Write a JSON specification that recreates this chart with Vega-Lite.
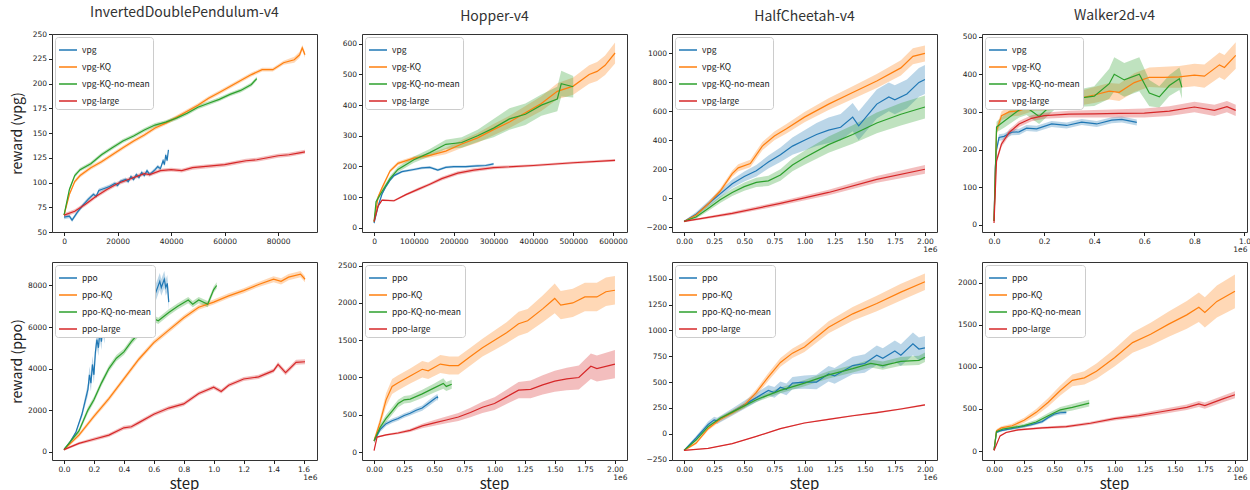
{
"$schema": "https://vega.github.io/schema/vega-lite/v6.json",
"padding": {"left": 9, "top": 5, "right": 0, "bottom": 0},
"config": {
 "view": {"stroke": "#333"},
 "legend": {"orient": "top-left", "offset": 3, "padding": 3, "fillColor": "white", "strokeColor": "#cccccc", "cornerRadius": 3, "labelFont": "Noto Sans CJK JP", "labelFontSize": 8.5, "labelColor": "#222", "symbolType": "stroke", "symbolSize": 324, "symbolStrokeWidth": 1.5, "rowPadding": 2, "labelOffset": 4},
 "axis": {"grid": false, "domain": false, "tickColor": "#222", "tickSize": 3.5, "labelFont": "DejaVu Sans", "labelFontSize": 7.5, "labelColor": "#222", "labelPadding": 2},
 "axisX": {"titleX": 265, "titleY": 17, "titleAlign": "right", "titleBaseline": "middle", "titleFont": "DejaVu Sans", "titleFontSize": 7.5, "titleFontWeight": "normal", "titleColor": "#222"},
 "axisY": {"titleX": -35, "titleBaseline": "middle", "titleFont": "Noto Sans CJK JP", "titleFontSize": 14, "titleFontWeight": "normal", "titleColor": "#222"}
},
"data": {"values": [
{"p":"a1","s":"vpg","x":0,"y":65,"lo":63,"hi":67},{"p":"a1","s":"vpg","x":2000,"y":66,"lo":64,"hi":68},{"p":"a1","s":"vpg","x":3000,"y":62,"lo":60,"hi":64},{"p":"a1","s":"vpg","x":5000,"y":70,"lo":68,"hi":72},{"p":"a1","s":"vpg","x":7000,"y":77,"lo":75,"hi":79},{"p":"a1","s":"vpg","x":9000,"y":83,"lo":81,"hi":85},{"p":"a1","s":"vpg","x":11000,"y":88,"lo":86,"hi":90},{"p":"a1","s":"vpg","x":12000,"y":86,"lo":84,"hi":88},{"p":"a1","s":"vpg","x":13000,"y":92,"lo":90,"hi":94},{"p":"a1","s":"vpg","x":15000,"y":94,"lo":92,"hi":96},{"p":"a1","s":"vpg","x":17000,"y":96,"lo":94,"hi":98},{"p":"a1","s":"vpg","x":19000,"y":99,"lo":97,"hi":101},{"p":"a1","s":"vpg","x":20000,"y":97,"lo":95,"hi":99},{"p":"a1","s":"vpg","x":21000,"y":101,"lo":99,"hi":103},{"p":"a1","s":"vpg","x":23000,"y":103,"lo":101,"hi":105},{"p":"a1","s":"vpg","x":24000,"y":101,"lo":99,"hi":103},{"p":"a1","s":"vpg","x":25000,"y":106,"lo":104,"hi":108},{"p":"a1","s":"vpg","x":26000,"y":103,"lo":101,"hi":105},{"p":"a1","s":"vpg","x":27000,"y":108,"lo":106,"hi":110},{"p":"a1","s":"vpg","x":28000,"y":105,"lo":103,"hi":107},{"p":"a1","s":"vpg","x":29000,"y":110,"lo":108,"hi":112},{"p":"a1","s":"vpg","x":30000,"y":107,"lo":105,"hi":109},{"p":"a1","s":"vpg","x":31000,"y":112,"lo":110,"hi":114},{"p":"a1","s":"vpg","x":32000,"y":108,"lo":106,"hi":110},{"p":"a1","s":"vpg","x":34000,"y":113,"lo":111,"hi":115},{"p":"a1","s":"vpg","x":35000,"y":116,"lo":114,"hi":118},{"p":"a1","s":"vpg","x":36000,"y":114,"lo":112,"hi":116},{"p":"a1","s":"vpg","x":37000,"y":122,"lo":120,"hi":124},{"p":"a1","s":"vpg","x":37500,"y":118,"lo":116,"hi":120},{"p":"a1","s":"vpg","x":38000,"y":128,"lo":126,"hi":130},{"p":"a1","s":"vpg","x":38500,"y":122,"lo":120,"hi":124},{"p":"a1","s":"vpg","x":39000,"y":133,"lo":131,"hi":135},
{"p":"a1","s":"vpg-KQ","x":0,"y":67,"lo":65,"hi":69},{"p":"a1","s":"vpg-KQ","x":2000,"y":88,"lo":86,"hi":90},{"p":"a1","s":"vpg-KQ","x":4000,"y":101,"lo":99,"hi":103},{"p":"a1","s":"vpg-KQ","x":6000,"y":107,"lo":105,"hi":109},{"p":"a1","s":"vpg-KQ","x":10000,"y":115,"lo":113,"hi":117},{"p":"a1","s":"vpg-KQ","x":14000,"y":121,"lo":119,"hi":123},{"p":"a1","s":"vpg-KQ","x":18000,"y":128,"lo":126,"hi":130},{"p":"a1","s":"vpg-KQ","x":22000,"y":135,"lo":133,"hi":137},{"p":"a1","s":"vpg-KQ","x":26000,"y":142,"lo":140,"hi":144},{"p":"a1","s":"vpg-KQ","x":30000,"y":148,"lo":146,"hi":150},{"p":"a1","s":"vpg-KQ","x":34000,"y":155,"lo":153,"hi":157},{"p":"a1","s":"vpg-KQ","x":38000,"y":160,"lo":158,"hi":162},{"p":"a1","s":"vpg-KQ","x":42000,"y":166,"lo":164,"hi":168},{"p":"a1","s":"vpg-KQ","x":46000,"y":172,"lo":170,"hi":174},{"p":"a1","s":"vpg-KQ","x":50000,"y":178,"lo":176,"hi":180},{"p":"a1","s":"vpg-KQ","x":54000,"y":185,"lo":183,"hi":187},{"p":"a1","s":"vpg-KQ","x":58000,"y":191,"lo":189,"hi":193},{"p":"a1","s":"vpg-KQ","x":62000,"y":197,"lo":195,"hi":199},{"p":"a1","s":"vpg-KQ","x":66000,"y":203,"lo":201,"hi":205},{"p":"a1","s":"vpg-KQ","x":70000,"y":209,"lo":207,"hi":211},{"p":"a1","s":"vpg-KQ","x":74000,"y":214,"lo":212,"hi":216},{"p":"a1","s":"vpg-KQ","x":78000,"y":214,"lo":212,"hi":216},{"p":"a1","s":"vpg-KQ","x":82000,"y":221,"lo":219,"hi":223},{"p":"a1","s":"vpg-KQ","x":86000,"y":224,"lo":221,"hi":227},{"p":"a1","s":"vpg-KQ","x":88000,"y":229,"lo":226,"hi":232},{"p":"a1","s":"vpg-KQ","x":89000,"y":236,"lo":233,"hi":239},{"p":"a1","s":"vpg-KQ","x":90000,"y":229,"lo":226,"hi":232},
{"p":"a1","s":"vpg-KQ-no-mean","x":0,"y":67,"lo":65,"hi":69},{"p":"a1","s":"vpg-KQ-no-mean","x":2000,"y":93,"lo":91,"hi":95},{"p":"a1","s":"vpg-KQ-no-mean","x":4000,"y":107,"lo":105,"hi":109},{"p":"a1","s":"vpg-KQ-no-mean","x":6000,"y":113,"lo":111,"hi":115},{"p":"a1","s":"vpg-KQ-no-mean","x":10000,"y":119,"lo":117,"hi":121},{"p":"a1","s":"vpg-KQ-no-mean","x":14000,"y":128,"lo":126,"hi":130},{"p":"a1","s":"vpg-KQ-no-mean","x":18000,"y":135,"lo":133,"hi":137},{"p":"a1","s":"vpg-KQ-no-mean","x":22000,"y":142,"lo":140,"hi":144},{"p":"a1","s":"vpg-KQ-no-mean","x":26000,"y":147,"lo":145,"hi":149},{"p":"a1","s":"vpg-KQ-no-mean","x":30000,"y":153,"lo":151,"hi":155},{"p":"a1","s":"vpg-KQ-no-mean","x":34000,"y":158,"lo":156,"hi":160},{"p":"a1","s":"vpg-KQ-no-mean","x":38000,"y":161,"lo":159,"hi":163},{"p":"a1","s":"vpg-KQ-no-mean","x":42000,"y":165,"lo":163,"hi":167},{"p":"a1","s":"vpg-KQ-no-mean","x":46000,"y":170,"lo":168,"hi":172},{"p":"a1","s":"vpg-KQ-no-mean","x":50000,"y":176,"lo":174,"hi":178},{"p":"a1","s":"vpg-KQ-no-mean","x":54000,"y":180,"lo":178,"hi":182},{"p":"a1","s":"vpg-KQ-no-mean","x":58000,"y":184,"lo":182,"hi":186},{"p":"a1","s":"vpg-KQ-no-mean","x":62000,"y":189,"lo":187,"hi":191},{"p":"a1","s":"vpg-KQ-no-mean","x":66000,"y":193,"lo":191,"hi":195},{"p":"a1","s":"vpg-KQ-no-mean","x":70000,"y":199,"lo":197,"hi":201},{"p":"a1","s":"vpg-KQ-no-mean","x":72000,"y":205,"lo":203,"hi":207},
{"p":"a1","s":"vpg-large","x":0,"y":67,"lo":65,"hi":69},{"p":"a1","s":"vpg-large","x":4000,"y":71,"lo":69,"hi":73},{"p":"a1","s":"vpg-large","x":8000,"y":78,"lo":76,"hi":80},{"p":"a1","s":"vpg-large","x":12000,"y":86,"lo":84,"hi":88},{"p":"a1","s":"vpg-large","x":16000,"y":93,"lo":91,"hi":95},{"p":"a1","s":"vpg-large","x":20000,"y":99,"lo":97,"hi":101},{"p":"a1","s":"vpg-large","x":24000,"y":103,"lo":101,"hi":105},{"p":"a1","s":"vpg-large","x":28000,"y":107,"lo":105,"hi":109},{"p":"a1","s":"vpg-large","x":30000,"y":109,"lo":107,"hi":111},{"p":"a1","s":"vpg-large","x":32000,"y":108,"lo":106,"hi":110},{"p":"a1","s":"vpg-large","x":36000,"y":112,"lo":110,"hi":114},{"p":"a1","s":"vpg-large","x":40000,"y":113,"lo":111,"hi":115},{"p":"a1","s":"vpg-large","x":44000,"y":112,"lo":110,"hi":114},{"p":"a1","s":"vpg-large","x":48000,"y":115,"lo":113,"hi":117},{"p":"a1","s":"vpg-large","x":52000,"y":116,"lo":114,"hi":118},{"p":"a1","s":"vpg-large","x":56000,"y":117,"lo":115,"hi":119},{"p":"a1","s":"vpg-large","x":60000,"y":118,"lo":116,"hi":120},{"p":"a1","s":"vpg-large","x":64000,"y":120,"lo":118,"hi":122},{"p":"a1","s":"vpg-large","x":68000,"y":122,"lo":120,"hi":124},{"p":"a1","s":"vpg-large","x":72000,"y":123,"lo":121,"hi":125},{"p":"a1","s":"vpg-large","x":76000,"y":125,"lo":123,"hi":127},{"p":"a1","s":"vpg-large","x":80000,"y":127,"lo":125,"hi":129},{"p":"a1","s":"vpg-large","x":84000,"y":128,"lo":126,"hi":130},{"p":"a1","s":"vpg-large","x":88000,"y":130,"lo":128,"hi":132},{"p":"a1","s":"vpg-large","x":90000,"y":131,"lo":129,"hi":133},
{"p":"b1","s":"ppo","x":0,"y":100,"lo":50,"hi":150},{"p":"b1","s":"ppo","x":40000,"y":450,"lo":390,"hi":510},{"p":"b1","s":"ppo","x":80000,"y":950,"lo":890,"hi":1010},{"p":"b1","s":"ppo","x":120000,"y":1800,"lo":1650,"hi":1950},{"p":"b1","s":"ppo","x":160000,"y":3000,"lo":2700,"hi":3300},{"p":"b1","s":"ppo","x":170000,"y":3700,"lo":3300,"hi":4100},{"p":"b1","s":"ppo","x":180000,"y":3300,"lo":2900,"hi":3700},{"p":"b1","s":"ppo","x":190000,"y":4200,"lo":3800,"hi":4600},{"p":"b1","s":"ppo","x":200000,"y":3700,"lo":3300,"hi":4100},{"p":"b1","s":"ppo","x":210000,"y":4800,"lo":4400,"hi":5200},{"p":"b1","s":"ppo","x":220000,"y":5400,"lo":5000,"hi":5800},{"p":"b1","s":"ppo","x":230000,"y":5000,"lo":4600,"hi":5400},{"p":"b1","s":"ppo","x":240000,"y":5800,"lo":5400,"hi":6200},{"p":"b1","s":"ppo","x":250000,"y":5300,"lo":4900,"hi":5700},{"p":"b1","s":"ppo","x":260000,"y":6100,"lo":5700,"hi":6500},{"p":"b1","s":"ppo","x":270000,"y":5600,"lo":5200,"hi":6000},{"p":"b1","s":"ppo","x":280000,"y":6400,"lo":6000,"hi":6800},{"p":"b1","s":"ppo","x":300000,"y":6700,"lo":6300,"hi":7100},{"p":"b1","s":"ppo","x":310000,"y":6200,"lo":5800,"hi":6600},{"p":"b1","s":"ppo","x":340000,"y":6900,"lo":6500,"hi":7300},{"p":"b1","s":"ppo","x":350000,"y":6300,"lo":5900,"hi":6700},{"p":"b1","s":"ppo","x":380000,"y":7000,"lo":6600,"hi":7400},{"p":"b1","s":"ppo","x":410000,"y":6300,"lo":5900,"hi":6700},{"p":"b1","s":"ppo","x":440000,"y":7100,"lo":6700,"hi":7500},{"p":"b1","s":"ppo","x":460000,"y":5800,"lo":5400,"hi":6200},{"p":"b1","s":"ppo","x":480000,"y":7300,"lo":6900,"hi":7700},{"p":"b1","s":"ppo","x":500000,"y":7400,"lo":7000,"hi":7800},{"p":"b1","s":"ppo","x":520000,"y":6500,"lo":6100,"hi":6900},{"p":"b1","s":"ppo","x":550000,"y":7500,"lo":7100,"hi":7900},{"p":"b1","s":"ppo","x":560000,"y":7100,"lo":6700,"hi":7500},{"p":"b1","s":"ppo","x":590000,"y":8000,"lo":7600,"hi":8400},{"p":"b1","s":"ppo","x":610000,"y":7600,"lo":7200,"hi":8000},{"p":"b1","s":"ppo","x":640000,"y":8200,"lo":7800,"hi":8600},{"p":"b1","s":"ppo","x":650000,"y":7900,"lo":7500,"hi":8300},{"p":"b1","s":"ppo","x":670000,"y":8300,"lo":7900,"hi":8700},{"p":"b1","s":"ppo","x":680000,"y":7900,"lo":7500,"hi":8300},{"p":"b1","s":"ppo","x":690000,"y":8100,"lo":7700,"hi":8500},{"p":"b1","s":"ppo","x":700000,"y":7200,"lo":6800,"hi":7600},
{"p":"b1","s":"ppo-KQ","x":0,"y":100,"lo":50,"hi":150},{"p":"b1","s":"ppo-KQ","x":100000,"y":800,"lo":700,"hi":900},{"p":"b1","s":"ppo-KQ","x":200000,"y":1700,"lo":1580,"hi":1820},{"p":"b1","s":"ppo-KQ","x":300000,"y":2550,"lo":2430,"hi":2670},{"p":"b1","s":"ppo-KQ","x":400000,"y":3500,"lo":3380,"hi":3620},{"p":"b1","s":"ppo-KQ","x":500000,"y":4450,"lo":4330,"hi":4570},{"p":"b1","s":"ppo-KQ","x":600000,"y":5250,"lo":5130,"hi":5370},{"p":"b1","s":"ppo-KQ","x":700000,"y":5850,"lo":5730,"hi":5970},{"p":"b1","s":"ppo-KQ","x":800000,"y":6450,"lo":6330,"hi":6570},{"p":"b1","s":"ppo-KQ","x":900000,"y":6950,"lo":6830,"hi":7070},{"p":"b1","s":"ppo-KQ","x":1000000,"y":7200,"lo":7080,"hi":7320},{"p":"b1","s":"ppo-KQ","x":1100000,"y":7500,"lo":7380,"hi":7620},{"p":"b1","s":"ppo-KQ","x":1200000,"y":7750,"lo":7630,"hi":7870},{"p":"b1","s":"ppo-KQ","x":1300000,"y":8050,"lo":7930,"hi":8170},{"p":"b1","s":"ppo-KQ","x":1400000,"y":8300,"lo":8150,"hi":8450},{"p":"b1","s":"ppo-KQ","x":1450000,"y":8200,"lo":8050,"hi":8350},{"p":"b1","s":"ppo-KQ","x":1500000,"y":8400,"lo":8250,"hi":8550},{"p":"b1","s":"ppo-KQ","x":1580000,"y":8550,"lo":8400,"hi":8700},{"p":"b1","s":"ppo-KQ","x":1610000,"y":8300,"lo":8150,"hi":8450},
{"p":"b1","s":"ppo-KQ-no-mean","x":0,"y":100,"lo":50,"hi":150},{"p":"b1","s":"ppo-KQ-no-mean","x":100000,"y":1000,"lo":880,"hi":1120},{"p":"b1","s":"ppo-KQ-no-mean","x":160000,"y":2000,"lo":1850,"hi":2150},{"p":"b1","s":"ppo-KQ-no-mean","x":200000,"y":2500,"lo":2350,"hi":2650},{"p":"b1","s":"ppo-KQ-no-mean","x":250000,"y":3300,"lo":3150,"hi":3450},{"p":"b1","s":"ppo-KQ-no-mean","x":300000,"y":4000,"lo":3850,"hi":4150},{"p":"b1","s":"ppo-KQ-no-mean","x":350000,"y":4500,"lo":4350,"hi":4650},{"p":"b1","s":"ppo-KQ-no-mean","x":400000,"y":4800,"lo":4650,"hi":4950},{"p":"b1","s":"ppo-KQ-no-mean","x":450000,"y":5300,"lo":5150,"hi":5450},{"p":"b1","s":"ppo-KQ-no-mean","x":500000,"y":5700,"lo":5550,"hi":5850},{"p":"b1","s":"ppo-KQ-no-mean","x":550000,"y":6600,"lo":6450,"hi":6750},{"p":"b1","s":"ppo-KQ-no-mean","x":600000,"y":6400,"lo":6250,"hi":6550},{"p":"b1","s":"ppo-KQ-no-mean","x":630000,"y":6300,"lo":6150,"hi":6450},{"p":"b1","s":"ppo-KQ-no-mean","x":700000,"y":6700,"lo":6550,"hi":6850},{"p":"b1","s":"ppo-KQ-no-mean","x":760000,"y":7000,"lo":6850,"hi":7150},{"p":"b1","s":"ppo-KQ-no-mean","x":830000,"y":7300,"lo":7150,"hi":7450},{"p":"b1","s":"ppo-KQ-no-mean","x":860000,"y":7100,"lo":6950,"hi":7250},{"p":"b1","s":"ppo-KQ-no-mean","x":900000,"y":7300,"lo":7150,"hi":7450},{"p":"b1","s":"ppo-KQ-no-mean","x":960000,"y":7100,"lo":6950,"hi":7250},{"p":"b1","s":"ppo-KQ-no-mean","x":1000000,"y":7800,"lo":7650,"hi":7950},{"p":"b1","s":"ppo-KQ-no-mean","x":1020000,"y":8000,"lo":7850,"hi":8150},
{"p":"b1","s":"ppo-large","x":0,"y":100,"lo":50,"hi":150},{"p":"b1","s":"ppo-large","x":100000,"y":400,"lo":330,"hi":470},{"p":"b1","s":"ppo-large","x":200000,"y":600,"lo":520,"hi":680},{"p":"b1","s":"ppo-large","x":300000,"y":800,"lo":710,"hi":890},{"p":"b1","s":"ppo-large","x":400000,"y":1150,"lo":1050,"hi":1250},{"p":"b1","s":"ppo-large","x":450000,"y":1200,"lo":1100,"hi":1300},{"p":"b1","s":"ppo-large","x":500000,"y":1400,"lo":1300,"hi":1500},{"p":"b1","s":"ppo-large","x":600000,"y":1800,"lo":1700,"hi":1900},{"p":"b1","s":"ppo-large","x":700000,"y":2100,"lo":2000,"hi":2200},{"p":"b1","s":"ppo-large","x":800000,"y":2300,"lo":2200,"hi":2400},{"p":"b1","s":"ppo-large","x":900000,"y":2800,"lo":2700,"hi":2900},{"p":"b1","s":"ppo-large","x":1000000,"y":3100,"lo":3000,"hi":3200},{"p":"b1","s":"ppo-large","x":1050000,"y":2900,"lo":2800,"hi":3000},{"p":"b1","s":"ppo-large","x":1100000,"y":3200,"lo":3100,"hi":3300},{"p":"b1","s":"ppo-large","x":1200000,"y":3500,"lo":3400,"hi":3600},{"p":"b1","s":"ppo-large","x":1300000,"y":3600,"lo":3500,"hi":3700},{"p":"b1","s":"ppo-large","x":1400000,"y":3900,"lo":3800,"hi":4000},{"p":"b1","s":"ppo-large","x":1430000,"y":4200,"lo":4080,"hi":4320},{"p":"b1","s":"ppo-large","x":1480000,"y":3800,"lo":3680,"hi":3920},{"p":"b1","s":"ppo-large","x":1550000,"y":4300,"lo":4180,"hi":4420},{"p":"b1","s":"ppo-large","x":1610000,"y":4330,"lo":4210,"hi":4450},
{"p":"a2","s":"vpg","x":0,"y":15,"lo":11,"hi":19},{"p":"a2","s":"vpg","x":10000,"y":70,"lo":66,"hi":74},{"p":"a2","s":"vpg","x":20000,"y":110,"lo":106,"hi":114},{"p":"a2","s":"vpg","x":30000,"y":135,"lo":131,"hi":139},{"p":"a2","s":"vpg","x":40000,"y":155,"lo":151,"hi":159},{"p":"a2","s":"vpg","x":50000,"y":170,"lo":166,"hi":174},{"p":"a2","s":"vpg","x":70000,"y":183,"lo":179,"hi":187},{"p":"a2","s":"vpg","x":100000,"y":190,"lo":186,"hi":194},{"p":"a2","s":"vpg","x":120000,"y":195,"lo":191,"hi":199},{"p":"a2","s":"vpg","x":140000,"y":197,"lo":193,"hi":201},{"p":"a2","s":"vpg","x":160000,"y":188,"lo":184,"hi":192},{"p":"a2","s":"vpg","x":180000,"y":197,"lo":193,"hi":201},{"p":"a2","s":"vpg","x":200000,"y":199,"lo":195,"hi":203},{"p":"a2","s":"vpg","x":230000,"y":199,"lo":195,"hi":203},{"p":"a2","s":"vpg","x":260000,"y":202,"lo":198,"hi":206},{"p":"a2","s":"vpg","x":280000,"y":203,"lo":199,"hi":207},{"p":"a2","s":"vpg","x":300000,"y":208,"lo":204,"hi":212},
{"p":"a2","s":"vpg-KQ","x":0,"y":20,"lo":15,"hi":25},{"p":"a2","s":"vpg-KQ","x":10000,"y":100,"lo":94,"hi":106},{"p":"a2","s":"vpg-KQ","x":20000,"y":130,"lo":124,"hi":136},{"p":"a2","s":"vpg-KQ","x":40000,"y":185,"lo":179,"hi":191},{"p":"a2","s":"vpg-KQ","x":60000,"y":210,"lo":204,"hi":216},{"p":"a2","s":"vpg-KQ","x":100000,"y":227,"lo":221,"hi":233},{"p":"a2","s":"vpg-KQ","x":140000,"y":236,"lo":229,"hi":243},{"p":"a2","s":"vpg-KQ","x":180000,"y":250,"lo":240,"hi":260},{"p":"a2","s":"vpg-KQ","x":220000,"y":273,"lo":260,"hi":286},{"p":"a2","s":"vpg-KQ","x":260000,"y":293,"lo":277,"hi":309},{"p":"a2","s":"vpg-KQ","x":300000,"y":320,"lo":302,"hi":338},{"p":"a2","s":"vpg-KQ","x":340000,"y":345,"lo":325,"hi":365},{"p":"a2","s":"vpg-KQ","x":380000,"y":375,"lo":353,"hi":397},{"p":"a2","s":"vpg-KQ","x":420000,"y":405,"lo":381,"hi":429},{"p":"a2","s":"vpg-KQ","x":460000,"y":445,"lo":419,"hi":471},{"p":"a2","s":"vpg-KQ","x":500000,"y":462,"lo":434,"hi":490},{"p":"a2","s":"vpg-KQ","x":540000,"y":500,"lo":470,"hi":530},{"p":"a2","s":"vpg-KQ","x":560000,"y":510,"lo":479,"hi":541},{"p":"a2","s":"vpg-KQ","x":580000,"y":530,"lo":498,"hi":562},{"p":"a2","s":"vpg-KQ","x":605000,"y":570,"lo":536,"hi":604},
{"p":"a2","s":"vpg-KQ-no-mean","x":0,"y":20,"lo":15,"hi":25},{"p":"a2","s":"vpg-KQ-no-mean","x":5000,"y":85,"lo":78,"hi":92},{"p":"a2","s":"vpg-KQ-no-mean","x":20000,"y":118,"lo":110,"hi":126},{"p":"a2","s":"vpg-KQ-no-mean","x":40000,"y":160,"lo":151,"hi":169},{"p":"a2","s":"vpg-KQ-no-mean","x":60000,"y":190,"lo":181,"hi":199},{"p":"a2","s":"vpg-KQ-no-mean","x":100000,"y":222,"lo":212,"hi":232},{"p":"a2","s":"vpg-KQ-no-mean","x":140000,"y":245,"lo":233,"hi":257},{"p":"a2","s":"vpg-KQ-no-mean","x":180000,"y":272,"lo":257,"hi":287},{"p":"a2","s":"vpg-KQ-no-mean","x":220000,"y":278,"lo":261,"hi":295},{"p":"a2","s":"vpg-KQ-no-mean","x":260000,"y":300,"lo":280,"hi":320},{"p":"a2","s":"vpg-KQ-no-mean","x":300000,"y":325,"lo":295,"hi":355},{"p":"a2","s":"vpg-KQ-no-mean","x":340000,"y":355,"lo":320,"hi":390},{"p":"a2","s":"vpg-KQ-no-mean","x":380000,"y":370,"lo":335,"hi":405},{"p":"a2","s":"vpg-KQ-no-mean","x":420000,"y":400,"lo":365,"hi":435},{"p":"a2","s":"vpg-KQ-no-mean","x":460000,"y":420,"lo":380,"hi":460},{"p":"a2","s":"vpg-KQ-no-mean","x":470000,"y":470,"lo":428,"hi":512},{"p":"a2","s":"vpg-KQ-no-mean","x":500000,"y":460,"lo":425,"hi":495},
{"p":"a2","s":"vpg-large","x":0,"y":20,"lo":17,"hi":23},{"p":"a2","s":"vpg-large","x":10000,"y":70,"lo":67,"hi":73},{"p":"a2","s":"vpg-large","x":20000,"y":90,"lo":87,"hi":93},{"p":"a2","s":"vpg-large","x":50000,"y":88,"lo":85,"hi":91},{"p":"a2","s":"vpg-large","x":80000,"y":108,"lo":104,"hi":112},{"p":"a2","s":"vpg-large","x":110000,"y":125,"lo":120,"hi":130},{"p":"a2","s":"vpg-large","x":140000,"y":142,"lo":137,"hi":147},{"p":"a2","s":"vpg-large","x":170000,"y":160,"lo":154,"hi":166},{"p":"a2","s":"vpg-large","x":210000,"y":178,"lo":172,"hi":184},{"p":"a2","s":"vpg-large","x":250000,"y":188,"lo":182,"hi":194},{"p":"a2","s":"vpg-large","x":300000,"y":196,"lo":191,"hi":201},{"p":"a2","s":"vpg-large","x":400000,"y":203,"lo":199,"hi":207},{"p":"a2","s":"vpg-large","x":500000,"y":212,"lo":208,"hi":216},{"p":"a2","s":"vpg-large","x":605000,"y":220,"lo":216,"hi":224},
{"p":"b2","s":"ppo","x":0,"y":150,"lo":120,"hi":180},{"p":"b2","s":"ppo","x":50000,"y":300,"lo":270,"hi":330},{"p":"b2","s":"ppo","x":100000,"y":380,"lo":350,"hi":410},{"p":"b2","s":"ppo","x":150000,"y":420,"lo":390,"hi":450},{"p":"b2","s":"ppo","x":200000,"y":450,"lo":420,"hi":480},{"p":"b2","s":"ppo","x":250000,"y":490,"lo":460,"hi":520},{"p":"b2","s":"ppo","x":300000,"y":520,"lo":490,"hi":550},{"p":"b2","s":"ppo","x":350000,"y":560,"lo":525,"hi":595},{"p":"b2","s":"ppo","x":400000,"y":590,"lo":555,"hi":625},{"p":"b2","s":"ppo","x":450000,"y":650,"lo":610,"hi":690},{"p":"b2","s":"ppo","x":500000,"y":710,"lo":670,"hi":750},{"p":"b2","s":"ppo","x":525000,"y":740,"lo":700,"hi":780},{"p":"b2","s":"ppo","x":530000,"y":720,"lo":680,"hi":760},
{"p":"b2","s":"ppo-KQ","x":0,"y":150,"lo":120,"hi":180},{"p":"b2","s":"ppo-KQ","x":50000,"y":400,"lo":340,"hi":460},{"p":"b2","s":"ppo-KQ","x":100000,"y":700,"lo":610,"hi":790},{"p":"b2","s":"ppo-KQ","x":150000,"y":880,"lo":780,"hi":980},{"p":"b2","s":"ppo-KQ","x":200000,"y":930,"lo":830,"hi":1030},{"p":"b2","s":"ppo-KQ","x":300000,"y":1020,"lo":920,"hi":1120},{"p":"b2","s":"ppo-KQ","x":400000,"y":1110,"lo":1000,"hi":1220},{"p":"b2","s":"ppo-KQ","x":450000,"y":1090,"lo":980,"hi":1200},{"p":"b2","s":"ppo-KQ","x":550000,"y":1180,"lo":1060,"hi":1300},{"p":"b2","s":"ppo-KQ","x":625000,"y":1160,"lo":1040,"hi":1280},{"p":"b2","s":"ppo-KQ","x":700000,"y":1160,"lo":1040,"hi":1280},{"p":"b2","s":"ppo-KQ","x":800000,"y":1280,"lo":1160,"hi":1400},{"p":"b2","s":"ppo-KQ","x":900000,"y":1400,"lo":1280,"hi":1520},{"p":"b2","s":"ppo-KQ","x":1000000,"y":1500,"lo":1370,"hi":1630},{"p":"b2","s":"ppo-KQ","x":1100000,"y":1600,"lo":1460,"hi":1740},{"p":"b2","s":"ppo-KQ","x":1200000,"y":1720,"lo":1560,"hi":1880},{"p":"b2","s":"ppo-KQ","x":1275000,"y":1760,"lo":1600,"hi":1920},{"p":"b2","s":"ppo-KQ","x":1400000,"y":1920,"lo":1740,"hi":2100},{"p":"b2","s":"ppo-KQ","x":1500000,"y":2060,"lo":1860,"hi":2260},{"p":"b2","s":"ppo-KQ","x":1550000,"y":1970,"lo":1780,"hi":2160},{"p":"b2","s":"ppo-KQ","x":1650000,"y":2000,"lo":1810,"hi":2190},{"p":"b2","s":"ppo-KQ","x":1750000,"y":2080,"lo":1890,"hi":2270},{"p":"b2","s":"ppo-KQ","x":1850000,"y":2080,"lo":1890,"hi":2270},{"p":"b2","s":"ppo-KQ","x":1925000,"y":2150,"lo":1960,"hi":2340},{"p":"b2","s":"ppo-KQ","x":2000000,"y":2170,"lo":1980,"hi":2360},
{"p":"b2","s":"ppo-KQ-no-mean","x":0,"y":150,"lo":120,"hi":180},{"p":"b2","s":"ppo-KQ-no-mean","x":50000,"y":330,"lo":290,"hi":370},{"p":"b2","s":"ppo-KQ-no-mean","x":100000,"y":450,"lo":400,"hi":500},{"p":"b2","s":"ppo-KQ-no-mean","x":150000,"y":550,"lo":500,"hi":600},{"p":"b2","s":"ppo-KQ-no-mean","x":200000,"y":650,"lo":600,"hi":700},{"p":"b2","s":"ppo-KQ-no-mean","x":250000,"y":700,"lo":650,"hi":750},{"p":"b2","s":"ppo-KQ-no-mean","x":300000,"y":710,"lo":660,"hi":760},{"p":"b2","s":"ppo-KQ-no-mean","x":400000,"y":780,"lo":725,"hi":835},{"p":"b2","s":"ppo-KQ-no-mean","x":500000,"y":860,"lo":800,"hi":920},{"p":"b2","s":"ppo-KQ-no-mean","x":575000,"y":920,"lo":850,"hi":990},{"p":"b2","s":"ppo-KQ-no-mean","x":600000,"y":880,"lo":820,"hi":940},{"p":"b2","s":"ppo-KQ-no-mean","x":645000,"y":910,"lo":850,"hi":970},
{"p":"b2","s":"ppo-large","x":0,"y":20,"lo":10,"hi":30},{"p":"b2","s":"ppo-large","x":25000,"y":200,"lo":190,"hi":210},{"p":"b2","s":"ppo-large","x":100000,"y":230,"lo":218,"hi":242},{"p":"b2","s":"ppo-large","x":200000,"y":255,"lo":238,"hi":272},{"p":"b2","s":"ppo-large","x":300000,"y":290,"lo":267,"hi":313},{"p":"b2","s":"ppo-large","x":400000,"y":350,"lo":320,"hi":380},{"p":"b2","s":"ppo-large","x":500000,"y":390,"lo":352,"hi":428},{"p":"b2","s":"ppo-large","x":600000,"y":430,"lo":385,"hi":475},{"p":"b2","s":"ppo-large","x":700000,"y":470,"lo":415,"hi":525},{"p":"b2","s":"ppo-large","x":800000,"y":530,"lo":465,"hi":595},{"p":"b2","s":"ppo-large","x":900000,"y":600,"lo":525,"hi":675},{"p":"b2","s":"ppo-large","x":1000000,"y":650,"lo":565,"hi":735},{"p":"b2","s":"ppo-large","x":1100000,"y":740,"lo":645,"hi":835},{"p":"b2","s":"ppo-large","x":1200000,"y":830,"lo":720,"hi":940},{"p":"b2","s":"ppo-large","x":1300000,"y":840,"lo":720,"hi":960},{"p":"b2","s":"ppo-large","x":1400000,"y":900,"lo":770,"hi":1030},{"p":"b2","s":"ppo-large","x":1500000,"y":950,"lo":810,"hi":1090},{"p":"b2","s":"ppo-large","x":1600000,"y":980,"lo":830,"hi":1130},{"p":"b2","s":"ppo-large","x":1700000,"y":1000,"lo":840,"hi":1160},{"p":"b2","s":"ppo-large","x":1800000,"y":1150,"lo":980,"hi":1320},{"p":"b2","s":"ppo-large","x":1850000,"y":1120,"lo":945,"hi":1295},{"p":"b2","s":"ppo-large","x":2000000,"y":1180,"lo":990,"hi":1370},
{"p":"a3","s":"vpg","x":0,"y":-160,"lo":-165,"hi":-155},{"p":"a3","s":"vpg","x":100000,"y":-110,"lo":-125,"hi":-95},{"p":"a3","s":"vpg","x":200000,"y":-40,"lo":-60,"hi":-20},{"p":"a3","s":"vpg","x":300000,"y":30,"lo":5,"hi":55},{"p":"a3","s":"vpg","x":400000,"y":100,"lo":70,"hi":130},{"p":"a3","s":"vpg","x":500000,"y":150,"lo":115,"hi":185},{"p":"a3","s":"vpg","x":600000,"y":190,"lo":150,"hi":230},{"p":"a3","s":"vpg","x":700000,"y":250,"lo":205,"hi":295},{"p":"a3","s":"vpg","x":800000,"y":300,"lo":250,"hi":350},{"p":"a3","s":"vpg","x":900000,"y":360,"lo":300,"hi":420},{"p":"a3","s":"vpg","x":1000000,"y":400,"lo":330,"hi":470},{"p":"a3","s":"vpg","x":1100000,"y":440,"lo":360,"hi":520},{"p":"a3","s":"vpg","x":1200000,"y":470,"lo":382,"hi":558},{"p":"a3","s":"vpg","x":1300000,"y":490,"lo":398,"hi":582},{"p":"a3","s":"vpg","x":1400000,"y":560,"lo":462,"hi":658},{"p":"a3","s":"vpg","x":1450000,"y":500,"lo":400,"hi":600},{"p":"a3","s":"vpg","x":1550000,"y":600,"lo":500,"hi":700},{"p":"a3","s":"vpg","x":1600000,"y":650,"lo":550,"hi":750},{"p":"a3","s":"vpg","x":1700000,"y":700,"lo":600,"hi":800},{"p":"a3","s":"vpg","x":1750000,"y":680,"lo":580,"hi":780},{"p":"a3","s":"vpg","x":1850000,"y":720,"lo":620,"hi":820},{"p":"a3","s":"vpg","x":1950000,"y":800,"lo":700,"hi":900},{"p":"a3","s":"vpg","x":2000000,"y":820,"lo":720,"hi":920},
{"p":"a3","s":"vpg-KQ","x":0,"y":-160,"lo":-165,"hi":-155},{"p":"a3","s":"vpg-KQ","x":100000,"y":-115,"lo":-125,"hi":-105},{"p":"a3","s":"vpg-KQ","x":200000,"y":-40,"lo":-54,"hi":-26},{"p":"a3","s":"vpg-KQ","x":300000,"y":50,"lo":32,"hi":68},{"p":"a3","s":"vpg-KQ","x":400000,"y":170,"lo":148,"hi":192},{"p":"a3","s":"vpg-KQ","x":450000,"y":210,"lo":186,"hi":234},{"p":"a3","s":"vpg-KQ","x":550000,"y":240,"lo":214,"hi":266},{"p":"a3","s":"vpg-KQ","x":650000,"y":360,"lo":332,"hi":388},{"p":"a3","s":"vpg-KQ","x":750000,"y":430,"lo":400,"hi":460},{"p":"a3","s":"vpg-KQ","x":850000,"y":480,"lo":447,"hi":513},{"p":"a3","s":"vpg-KQ","x":1000000,"y":560,"lo":524,"hi":596},{"p":"a3","s":"vpg-KQ","x":1200000,"y":650,"lo":610,"hi":690},{"p":"a3","s":"vpg-KQ","x":1400000,"y":730,"lo":686,"hi":774},{"p":"a3","s":"vpg-KQ","x":1600000,"y":810,"lo":762,"hi":858},{"p":"a3","s":"vpg-KQ","x":1800000,"y":900,"lo":848,"hi":952},{"p":"a3","s":"vpg-KQ","x":1900000,"y":980,"lo":925,"hi":1035},{"p":"a3","s":"vpg-KQ","x":2000000,"y":1000,"lo":945,"hi":1055},
{"p":"a3","s":"vpg-KQ-no-mean","x":0,"y":-160,"lo":-165,"hi":-155},{"p":"a3","s":"vpg-KQ-no-mean","x":100000,"y":-130,"lo":-142,"hi":-118},{"p":"a3","s":"vpg-KQ-no-mean","x":200000,"y":-70,"lo":-88,"hi":-52},{"p":"a3","s":"vpg-KQ-no-mean","x":300000,"y":-10,"lo":-32,"hi":12},{"p":"a3","s":"vpg-KQ-no-mean","x":400000,"y":40,"lo":15,"hi":65},{"p":"a3","s":"vpg-KQ-no-mean","x":500000,"y":80,"lo":52,"hi":108},{"p":"a3","s":"vpg-KQ-no-mean","x":600000,"y":110,"lo":78,"hi":142},{"p":"a3","s":"vpg-KQ-no-mean","x":700000,"y":120,"lo":84,"hi":156},{"p":"a3","s":"vpg-KQ-no-mean","x":800000,"y":160,"lo":120,"hi":200},{"p":"a3","s":"vpg-KQ-no-mean","x":900000,"y":230,"lo":186,"hi":274},{"p":"a3","s":"vpg-KQ-no-mean","x":1000000,"y":280,"lo":232,"hi":328},{"p":"a3","s":"vpg-KQ-no-mean","x":1200000,"y":370,"lo":314,"hi":426},{"p":"a3","s":"vpg-KQ-no-mean","x":1400000,"y":440,"lo":376,"hi":504},{"p":"a3","s":"vpg-KQ-no-mean","x":1600000,"y":520,"lo":448,"hi":592},{"p":"a3","s":"vpg-KQ-no-mean","x":1800000,"y":580,"lo":503,"hi":657},{"p":"a3","s":"vpg-KQ-no-mean","x":2000000,"y":630,"lo":550,"hi":710},
{"p":"a3","s":"vpg-large","x":0,"y":-160,"lo":-165,"hi":-155},{"p":"a3","s":"vpg-large","x":400000,"y":-105,"lo":-116,"hi":-94},{"p":"a3","s":"vpg-large","x":800000,"y":-35,"lo":-50,"hi":-20},{"p":"a3","s":"vpg-large","x":1200000,"y":40,"lo":21,"hi":59},{"p":"a3","s":"vpg-large","x":1600000,"y":130,"lo":107,"hi":153},{"p":"a3","s":"vpg-large","x":2000000,"y":200,"lo":170,"hi":230},
{"p":"b3","s":"ppo","x":0,"y":-160,"lo":-165,"hi":-155},{"p":"b3","s":"ppo","x":100000,"y":-40,"lo":-60,"hi":-20},{"p":"b3","s":"ppo","x":200000,"y":90,"lo":60,"hi":120},{"p":"b3","s":"ppo","x":250000,"y":135,"lo":105,"hi":165},{"p":"b3","s":"ppo","x":275000,"y":125,"lo":95,"hi":155},{"p":"b3","s":"ppo","x":400000,"y":210,"lo":175,"hi":245},{"p":"b3","s":"ppo","x":500000,"y":280,"lo":240,"hi":320},{"p":"b3","s":"ppo","x":600000,"y":350,"lo":305,"hi":395},{"p":"b3","s":"ppo","x":700000,"y":420,"lo":370,"hi":470},{"p":"b3","s":"ppo","x":750000,"y":400,"lo":348,"hi":452},{"p":"b3","s":"ppo","x":800000,"y":450,"lo":395,"hi":505},{"p":"b3","s":"ppo","x":850000,"y":430,"lo":373,"hi":487},{"p":"b3","s":"ppo","x":900000,"y":490,"lo":430,"hi":550},{"p":"b3","s":"ppo","x":1000000,"y":500,"lo":435,"hi":565},{"p":"b3","s":"ppo","x":1100000,"y":500,"lo":430,"hi":570},{"p":"b3","s":"ppo","x":1200000,"y":580,"lo":505,"hi":655},{"p":"b3","s":"ppo","x":1250000,"y":560,"lo":483,"hi":637},{"p":"b3","s":"ppo","x":1400000,"y":660,"lo":575,"hi":745},{"p":"b3","s":"ppo","x":1500000,"y":680,"lo":590,"hi":770},{"p":"b3","s":"ppo","x":1600000,"y":760,"lo":665,"hi":855},{"p":"b3","s":"ppo","x":1650000,"y":730,"lo":633,"hi":827},{"p":"b3","s":"ppo","x":1750000,"y":800,"lo":698,"hi":902},{"p":"b3","s":"ppo","x":1800000,"y":760,"lo":655,"hi":865},{"p":"b3","s":"ppo","x":1900000,"y":870,"lo":760,"hi":980},{"p":"b3","s":"ppo","x":1950000,"y":820,"lo":708,"hi":932},{"p":"b3","s":"ppo","x":2000000,"y":830,"lo":715,"hi":945},
{"p":"b3","s":"ppo-KQ","x":0,"y":-160,"lo":-165,"hi":-155},{"p":"b3","s":"ppo-KQ","x":100000,"y":-90,"lo":-103,"hi":-77},{"p":"b3","s":"ppo-KQ","x":200000,"y":50,"lo":33,"hi":67},{"p":"b3","s":"ppo-KQ","x":300000,"y":140,"lo":120,"hi":160},{"p":"b3","s":"ppo-KQ","x":400000,"y":205,"lo":182,"hi":228},{"p":"b3","s":"ppo-KQ","x":500000,"y":275,"lo":248,"hi":302},{"p":"b3","s":"ppo-KQ","x":600000,"y":400,"lo":368,"hi":432},{"p":"b3","s":"ppo-KQ","x":700000,"y":550,"lo":512,"hi":588},{"p":"b3","s":"ppo-KQ","x":800000,"y":690,"lo":648,"hi":732},{"p":"b3","s":"ppo-KQ","x":900000,"y":780,"lo":734,"hi":826},{"p":"b3","s":"ppo-KQ","x":1000000,"y":840,"lo":790,"hi":890},{"p":"b3","s":"ppo-KQ","x":1200000,"y":1030,"lo":972,"hi":1088},{"p":"b3","s":"ppo-KQ","x":1400000,"y":1160,"lo":1094,"hi":1226},{"p":"b3","s":"ppo-KQ","x":1600000,"y":1260,"lo":1186,"hi":1334},{"p":"b3","s":"ppo-KQ","x":1800000,"y":1370,"lo":1290,"hi":1450},{"p":"b3","s":"ppo-KQ","x":2000000,"y":1470,"lo":1390,"hi":1550},
{"p":"b3","s":"ppo-KQ-no-mean","x":0,"y":-160,"lo":-165,"hi":-155},{"p":"b3","s":"ppo-KQ-no-mean","x":100000,"y":-60,"lo":-72,"hi":-48},{"p":"b3","s":"ppo-KQ-no-mean","x":200000,"y":70,"lo":55,"hi":85},{"p":"b3","s":"ppo-KQ-no-mean","x":300000,"y":150,"lo":133,"hi":167},{"p":"b3","s":"ppo-KQ-no-mean","x":400000,"y":210,"lo":191,"hi":229},{"p":"b3","s":"ppo-KQ-no-mean","x":500000,"y":270,"lo":249,"hi":291},{"p":"b3","s":"ppo-KQ-no-mean","x":600000,"y":330,"lo":307,"hi":353},{"p":"b3","s":"ppo-KQ-no-mean","x":800000,"y":420,"lo":393,"hi":447},{"p":"b3","s":"ppo-KQ-no-mean","x":1000000,"y":490,"lo":459,"hi":521},{"p":"b3","s":"ppo-KQ-no-mean","x":1200000,"y":570,"lo":536,"hi":604},{"p":"b3","s":"ppo-KQ-no-mean","x":1400000,"y":630,"lo":594,"hi":666},{"p":"b3","s":"ppo-KQ-no-mean","x":1550000,"y":680,"lo":641,"hi":719},{"p":"b3","s":"ppo-KQ-no-mean","x":1650000,"y":660,"lo":620,"hi":700},{"p":"b3","s":"ppo-KQ-no-mean","x":1800000,"y":700,"lo":657,"hi":743},{"p":"b3","s":"ppo-KQ-no-mean","x":1950000,"y":710,"lo":665,"hi":755},{"p":"b3","s":"ppo-KQ-no-mean","x":2000000,"y":740,"lo":694,"hi":786},
{"p":"b3","s":"ppo-large","x":0,"y":-160,"lo":-164,"hi":-156},{"p":"b3","s":"ppo-large","x":200000,"y":-140,"lo":-144,"hi":-136},{"p":"b3","s":"ppo-large","x":400000,"y":-95,"lo":-100,"hi":-90},{"p":"b3","s":"ppo-large","x":600000,"y":-25,"lo":-30,"hi":-20},{"p":"b3","s":"ppo-large","x":800000,"y":50,"lo":44,"hi":56},{"p":"b3","s":"ppo-large","x":1000000,"y":105,"lo":99,"hi":111},{"p":"b3","s":"ppo-large","x":1200000,"y":140,"lo":133,"hi":147},{"p":"b3","s":"ppo-large","x":1400000,"y":175,"lo":168,"hi":182},{"p":"b3","s":"ppo-large","x":1600000,"y":205,"lo":197,"hi":213},{"p":"b3","s":"ppo-large","x":1800000,"y":240,"lo":232,"hi":248},{"p":"b3","s":"ppo-large","x":2000000,"y":280,"lo":272,"hi":288},
{"p":"a4","s":"vpg","x":0,"y":10,"lo":5,"hi":15},{"p":"a4","s":"vpg","x":5000,"y":150,"lo":140,"hi":160},{"p":"a4","s":"vpg","x":10000,"y":200,"lo":190,"hi":210},{"p":"a4","s":"vpg","x":20000,"y":232,"lo":223,"hi":241},{"p":"a4","s":"vpg","x":40000,"y":235,"lo":227,"hi":243},{"p":"a4","s":"vpg","x":70000,"y":246,"lo":238,"hi":254},{"p":"a4","s":"vpg","x":100000,"y":247,"lo":239,"hi":255},{"p":"a4","s":"vpg","x":130000,"y":257,"lo":249,"hi":265},{"p":"a4","s":"vpg","x":170000,"y":255,"lo":247,"hi":263},{"p":"a4","s":"vpg","x":230000,"y":268,"lo":260,"hi":276},{"p":"a4","s":"vpg","x":290000,"y":264,"lo":256,"hi":272},{"p":"a4","s":"vpg","x":350000,"y":273,"lo":265,"hi":281},{"p":"a4","s":"vpg","x":410000,"y":268,"lo":260,"hi":276},{"p":"a4","s":"vpg","x":470000,"y":278,"lo":270,"hi":286},{"p":"a4","s":"vpg","x":510000,"y":280,"lo":272,"hi":288},{"p":"a4","s":"vpg","x":570000,"y":272,"lo":264,"hi":280},
{"p":"a4","s":"vpg-KQ","x":0,"y":10,"lo":5,"hi":15},{"p":"a4","s":"vpg-KQ","x":10000,"y":250,"lo":238,"hi":262},{"p":"a4","s":"vpg-KQ","x":30000,"y":290,"lo":278,"hi":302},{"p":"a4","s":"vpg-KQ","x":60000,"y":300,"lo":287,"hi":313},{"p":"a4","s":"vpg-KQ","x":100000,"y":303,"lo":290,"hi":316},{"p":"a4","s":"vpg-KQ","x":160000,"y":318,"lo":303,"hi":333},{"p":"a4","s":"vpg-KQ","x":220000,"y":320,"lo":304,"hi":336},{"p":"a4","s":"vpg-KQ","x":280000,"y":335,"lo":317,"hi":353},{"p":"a4","s":"vpg-KQ","x":340000,"y":336,"lo":317,"hi":355},{"p":"a4","s":"vpg-KQ","x":400000,"y":345,"lo":324,"hi":366},{"p":"a4","s":"vpg-KQ","x":460000,"y":355,"lo":333,"hi":377},{"p":"a4","s":"vpg-KQ","x":500000,"y":352,"lo":329,"hi":375},{"p":"a4","s":"vpg-KQ","x":560000,"y":378,"lo":353,"hi":403},{"p":"a4","s":"vpg-KQ","x":620000,"y":392,"lo":366,"hi":418},{"p":"a4","s":"vpg-KQ","x":680000,"y":392,"lo":364,"hi":420},{"p":"a4","s":"vpg-KQ","x":740000,"y":393,"lo":364,"hi":422},{"p":"a4","s":"vpg-KQ","x":800000,"y":398,"lo":368,"hi":428},{"p":"a4","s":"vpg-KQ","x":840000,"y":395,"lo":364,"hi":426},{"p":"a4","s":"vpg-KQ","x":900000,"y":425,"lo":392,"hi":458},{"p":"a4","s":"vpg-KQ","x":920000,"y":418,"lo":385,"hi":451},{"p":"a4","s":"vpg-KQ","x":965000,"y":450,"lo":415,"hi":485},
{"p":"a4","s":"vpg-KQ-no-mean","x":0,"y":10,"lo":5,"hi":15},{"p":"a4","s":"vpg-KQ-no-mean","x":10000,"y":260,"lo":246,"hi":274},{"p":"a4","s":"vpg-KQ-no-mean","x":40000,"y":275,"lo":258,"hi":292},{"p":"a4","s":"vpg-KQ-no-mean","x":100000,"y":305,"lo":285,"hi":325},{"p":"a4","s":"vpg-KQ-no-mean","x":130000,"y":312,"lo":292,"hi":332},{"p":"a4","s":"vpg-KQ-no-mean","x":180000,"y":288,"lo":268,"hi":308},{"p":"a4","s":"vpg-KQ-no-mean","x":240000,"y":325,"lo":305,"hi":345},{"p":"a4","s":"vpg-KQ-no-mean","x":300000,"y":333,"lo":312,"hi":354},{"p":"a4","s":"vpg-KQ-no-mean","x":400000,"y":342,"lo":316,"hi":368},{"p":"a4","s":"vpg-KQ-no-mean","x":460000,"y":375,"lo":335,"hi":415},{"p":"a4","s":"vpg-KQ-no-mean","x":480000,"y":400,"lo":355,"hi":445},{"p":"a4","s":"vpg-KQ-no-mean","x":520000,"y":385,"lo":340,"hi":430},{"p":"a4","s":"vpg-KQ-no-mean","x":580000,"y":400,"lo":355,"hi":445},{"p":"a4","s":"vpg-KQ-no-mean","x":620000,"y":350,"lo":315,"hi":385},{"p":"a4","s":"vpg-KQ-no-mean","x":660000,"y":340,"lo":312,"hi":368},{"p":"a4","s":"vpg-KQ-no-mean","x":700000,"y":370,"lo":342,"hi":398},{"p":"a4","s":"vpg-KQ-no-mean","x":740000,"y":388,"lo":358,"hi":418},{"p":"a4","s":"vpg-KQ-no-mean","x":750000,"y":365,"lo":335,"hi":395},
{"p":"a4","s":"vpg-large","x":0,"y":5,"lo":2,"hi":8},{"p":"a4","s":"vpg-large","x":10000,"y":170,"lo":162,"hi":178},{"p":"a4","s":"vpg-large","x":30000,"y":215,"lo":207,"hi":223},{"p":"a4","s":"vpg-large","x":60000,"y":245,"lo":237,"hi":253},{"p":"a4","s":"vpg-large","x":100000,"y":268,"lo":260,"hi":276},{"p":"a4","s":"vpg-large","x":150000,"y":283,"lo":275,"hi":291},{"p":"a4","s":"vpg-large","x":200000,"y":290,"lo":282,"hi":298},{"p":"a4","s":"vpg-large","x":300000,"y":294,"lo":285,"hi":303},{"p":"a4","s":"vpg-large","x":400000,"y":295,"lo":285,"hi":305},{"p":"a4","s":"vpg-large","x":500000,"y":296,"lo":285,"hi":307},{"p":"a4","s":"vpg-large","x":600000,"y":297,"lo":285,"hi":309},{"p":"a4","s":"vpg-large","x":700000,"y":302,"lo":289,"hi":315},{"p":"a4","s":"vpg-large","x":800000,"y":313,"lo":299,"hi":327},{"p":"a4","s":"vpg-large","x":880000,"y":304,"lo":289,"hi":319},{"p":"a4","s":"vpg-large","x":930000,"y":314,"lo":299,"hi":329},{"p":"a4","s":"vpg-large","x":965000,"y":304,"lo":289,"hi":319},
{"p":"b4","s":"ppo","x":0,"y":10,"lo":5,"hi":15},{"p":"b4","s":"ppo","x":20000,"y":220,"lo":207,"hi":233},{"p":"b4","s":"ppo","x":50000,"y":240,"lo":227,"hi":253},{"p":"b4","s":"ppo","x":100000,"y":255,"lo":241,"hi":269},{"p":"b4","s":"ppo","x":200000,"y":280,"lo":264,"hi":296},{"p":"b4","s":"ppo","x":300000,"y":310,"lo":292,"hi":328},{"p":"b4","s":"ppo","x":400000,"y":350,"lo":330,"hi":370},{"p":"b4","s":"ppo","x":450000,"y":400,"lo":379,"hi":421},{"p":"b4","s":"ppo","x":500000,"y":440,"lo":418,"hi":462},{"p":"b4","s":"ppo","x":550000,"y":455,"lo":432,"hi":478},{"p":"b4","s":"ppo","x":600000,"y":460,"lo":437,"hi":483},
{"p":"b4","s":"ppo-KQ","x":0,"y":10,"lo":5,"hi":15},{"p":"b4","s":"ppo-KQ","x":20000,"y":240,"lo":222,"hi":258},{"p":"b4","s":"ppo-KQ","x":60000,"y":275,"lo":255,"hi":295},{"p":"b4","s":"ppo-KQ","x":150000,"y":300,"lo":275,"hi":325},{"p":"b4","s":"ppo-KQ","x":250000,"y":365,"lo":335,"hi":395},{"p":"b4","s":"ppo-KQ","x":350000,"y":460,"lo":420,"hi":500},{"p":"b4","s":"ppo-KQ","x":450000,"y":580,"lo":530,"hi":630},{"p":"b4","s":"ppo-KQ","x":550000,"y":720,"lo":660,"hi":780},{"p":"b4","s":"ppo-KQ","x":650000,"y":840,"lo":770,"hi":910},{"p":"b4","s":"ppo-KQ","x":750000,"y":870,"lo":790,"hi":950},{"p":"b4","s":"ppo-KQ","x":850000,"y":950,"lo":860,"hi":1040},{"p":"b4","s":"ppo-KQ","x":1000000,"y":1110,"lo":1005,"hi":1215},{"p":"b4","s":"ppo-KQ","x":1150000,"y":1290,"lo":1170,"hi":1410},{"p":"b4","s":"ppo-KQ","x":1300000,"y":1390,"lo":1255,"hi":1525},{"p":"b4","s":"ppo-KQ","x":1450000,"y":1510,"lo":1360,"hi":1660},{"p":"b4","s":"ppo-KQ","x":1600000,"y":1620,"lo":1455,"hi":1785},{"p":"b4","s":"ppo-KQ","x":1700000,"y":1710,"lo":1535,"hi":1885},{"p":"b4","s":"ppo-KQ","x":1750000,"y":1650,"lo":1470,"hi":1830},{"p":"b4","s":"ppo-KQ","x":1850000,"y":1780,"lo":1590,"hi":1970},{"p":"b4","s":"ppo-KQ","x":2000000,"y":1900,"lo":1700,"hi":2100},
{"p":"b4","s":"ppo-KQ-no-mean","x":0,"y":10,"lo":5,"hi":15},{"p":"b4","s":"ppo-KQ-no-mean","x":20000,"y":230,"lo":213,"hi":247},{"p":"b4","s":"ppo-KQ-no-mean","x":75000,"y":262,"lo":243,"hi":281},{"p":"b4","s":"ppo-KQ-no-mean","x":150000,"y":278,"lo":257,"hi":299},{"p":"b4","s":"ppo-KQ-no-mean","x":250000,"y":302,"lo":279,"hi":325},{"p":"b4","s":"ppo-KQ-no-mean","x":350000,"y":345,"lo":318,"hi":372},{"p":"b4","s":"ppo-KQ-no-mean","x":450000,"y":420,"lo":389,"hi":451},{"p":"b4","s":"ppo-KQ-no-mean","x":550000,"y":490,"lo":455,"hi":525},{"p":"b4","s":"ppo-KQ-no-mean","x":650000,"y":520,"lo":482,"hi":558},{"p":"b4","s":"ppo-KQ-no-mean","x":790000,"y":570,"lo":530,"hi":610},
{"p":"b4","s":"ppo-large","x":0,"y":5,"lo":2,"hi":8},{"p":"b4","s":"ppo-large","x":50000,"y":180,"lo":170,"hi":190},{"p":"b4","s":"ppo-large","x":100000,"y":220,"lo":210,"hi":230},{"p":"b4","s":"ppo-large","x":200000,"y":252,"lo":240,"hi":264},{"p":"b4","s":"ppo-large","x":400000,"y":275,"lo":261,"hi":289},{"p":"b4","s":"ppo-large","x":600000,"y":290,"lo":274,"hi":306},{"p":"b4","s":"ppo-large","x":800000,"y":330,"lo":312,"hi":348},{"p":"b4","s":"ppo-large","x":1000000,"y":385,"lo":364,"hi":406},{"p":"b4","s":"ppo-large","x":1200000,"y":420,"lo":395,"hi":445},{"p":"b4","s":"ppo-large","x":1400000,"y":470,"lo":441,"hi":499},{"p":"b4","s":"ppo-large","x":1600000,"y":520,"lo":487,"hi":553},{"p":"b4","s":"ppo-large","x":1700000,"y":560,"lo":525,"hi":595},{"p":"b4","s":"ppo-large","x":1750000,"y":540,"lo":504,"hi":576},{"p":"b4","s":"ppo-large","x":1900000,"y":620,"lo":581,"hi":659},{"p":"b4","s":"ppo-large","x":2000000,"y":670,"lo":629,"hi":711}
]},
"columns": 4,
"spacing": {"row": 30, "column": 45},
"bounds": "flush",
"resolve": {"scale": {"color": "independent", "fill": "independent", "x": "independent", "y": "independent"}},
"concat": [
{"width": 265, "height": 198, "title": {"text": "InvertedDoublePendulum-v4", "font": "Noto Sans CJK JP", "fontSize": 14, "fontWeight": "normal", "color": "#333", "offset": 10},
 "transform": [{"filter": "datum.p === 'a1'"}],
 "layer": [
  {"mark": {"type": "area", "opacity": 0.3}, "encoding": {"x": {"field": "x", "type": "quantitative", "scale": {"domain": [-4500, 94500], "nice": false, "zero": false}, "axis": {"values": [0, 20000, 40000, 60000, 80000], "format": "d", "title": null}}, "y": {"field": "lo", "type": "quantitative", "scale": {"domain": [50, 250], "nice": false, "zero": false}, "axis": {"values": [50, 75, 100, 125, 150, 175, 200, 225, 250], "format": "d", "title": "reward (vpg)"}}, "y2": {"field": "hi"}, "fill": {"field": "s", "type": "nominal", "scale": {"scheme": "category10"}, "legend": null}}},
  {"mark": {"type": "line", "strokeWidth": 1.2}, "encoding": {"x": {"field": "x", "type": "quantitative", "scale": {"domain": [-4500, 94500], "nice": false, "zero": false}, "axis": {"values": [0, 20000, 40000, 60000, 80000], "format": "d", "title": null}}, "y": {"field": "y", "type": "quantitative", "scale": {"domain": [50, 250], "nice": false, "zero": false}, "axis": {"values": [50, 75, 100, 125, 150, 175, 200, 225, 250], "format": "d", "title": "reward (vpg)"}}, "color": {"field": "s", "type": "nominal", "scale": {"scheme": "category10"}, "legend": {"title": null}}}}
 ]},
{"width": 265, "height": 198, "title": {"text": "Hopper-v4", "font": "Noto Sans CJK JP", "fontSize": 14, "fontWeight": "normal", "color": "#333", "offset": 10},
 "transform": [{"filter": "datum.p === 'a2'"}],
 "layer": [
  {"mark": {"type": "area", "opacity": 0.3}, "encoding": {"x": {"field": "x", "type": "quantitative", "scale": {"domain": [-30300, 635000], "nice": false, "zero": false}, "axis": {"values": [0, 100000, 200000, 300000, 400000, 500000, 600000], "format": "d", "title": null}}, "y": {"field": "lo", "type": "quantitative", "scale": {"domain": [-14, 632], "nice": false, "zero": false}, "axis": {"values": [0, 100, 200, 300, 400, 500, 600], "format": "d", "title": null}}, "y2": {"field": "hi"}, "fill": {"field": "s", "type": "nominal", "scale": {"scheme": "category10"}, "legend": null}}},
  {"mark": {"type": "line", "strokeWidth": 1.2}, "encoding": {"x": {"field": "x", "type": "quantitative", "scale": {"domain": [-30300, 635000], "nice": false, "zero": false}, "axis": {"values": [0, 100000, 200000, 300000, 400000, 500000, 600000], "format": "d", "title": null}}, "y": {"field": "y", "type": "quantitative", "scale": {"domain": [-14, 632], "nice": false, "zero": false}, "axis": {"values": [0, 100, 200, 300, 400, 500, 600], "format": "d", "title": null}}, "color": {"field": "s", "type": "nominal", "scale": {"scheme": "category10"}, "legend": {"title": null}}}}
 ]},
{"width": 265, "height": 198, "title": {"text": "HalfCheetah-v4", "font": "Noto Sans CJK JP", "fontSize": 14, "fontWeight": "normal", "color": "#333", "offset": 10},
 "transform": [{"filter": "datum.p === 'a3'"}],
 "layer": [
  {"mark": {"type": "area", "opacity": 0.3}, "encoding": {"x": {"field": "x", "type": "quantitative", "scale": {"domain": [-100000, 2100000], "nice": false, "zero": false}, "axis": {"values": [0, 250000, 500000, 750000, 1000000, 1250000, 1500000, 1750000, 2000000], "labelExpr": "format(datum.value / 1000000, '.2f')", "title": "1e6"}}, "y": {"field": "lo", "type": "quantitative", "scale": {"domain": [-233, 1134], "nice": false, "zero": false}, "axis": {"values": [-200, 0, 200, 400, 600, 800, 1000], "format": "d", "title": null}}, "y2": {"field": "hi"}, "fill": {"field": "s", "type": "nominal", "scale": {"scheme": "category10"}, "legend": null}}},
  {"mark": {"type": "line", "strokeWidth": 1.2}, "encoding": {"x": {"field": "x", "type": "quantitative", "scale": {"domain": [-100000, 2100000], "nice": false, "zero": false}, "axis": {"values": [0, 250000, 500000, 750000, 1000000, 1250000, 1500000, 1750000, 2000000], "labelExpr": "format(datum.value / 1000000, '.2f')", "title": "1e6"}}, "y": {"field": "y", "type": "quantitative", "scale": {"domain": [-233, 1134], "nice": false, "zero": false}, "axis": {"values": [-200, 0, 200, 400, 600, 800, 1000], "format": "d", "title": null}}, "color": {"field": "s", "type": "nominal", "scale": {"scheme": "category10"}, "legend": {"title": null}}}}
 ]},
{"width": 265, "height": 198, "title": {"text": "Walker2d-v4", "font": "Noto Sans CJK JP", "fontSize": 14, "fontWeight": "normal", "color": "#333", "offset": 10},
 "transform": [{"filter": "datum.p === 'a4'"}],
 "layer": [
  {"mark": {"type": "area", "opacity": 0.3}, "encoding": {"x": {"field": "x", "type": "quantitative", "scale": {"domain": [-48000, 1010000], "nice": false, "zero": false}, "axis": {"values": [0, 200000, 400000, 600000, 800000, 1000000], "labelExpr": "format(datum.value / 1000000, '.1f')", "title": "1e6"}}, "y": {"field": "lo", "type": "quantitative", "scale": {"domain": [-19, 507], "nice": false, "zero": false}, "axis": {"values": [0, 100, 200, 300, 400, 500], "format": "d", "title": null}}, "y2": {"field": "hi"}, "fill": {"field": "s", "type": "nominal", "scale": {"scheme": "category10"}, "legend": null}}},
  {"mark": {"type": "line", "strokeWidth": 1.2}, "encoding": {"x": {"field": "x", "type": "quantitative", "scale": {"domain": [-48000, 1010000], "nice": false, "zero": false}, "axis": {"values": [0, 200000, 400000, 600000, 800000, 1000000], "labelExpr": "format(datum.value / 1000000, '.1f')", "title": "1e6"}}, "y": {"field": "y", "type": "quantitative", "scale": {"domain": [-19, 507], "nice": false, "zero": false}, "axis": {"values": [0, 100, 200, 300, 400, 500], "format": "d", "title": null}}, "color": {"field": "s", "type": "nominal", "scale": {"scheme": "category10"}, "legend": {"title": null}}}}
 ]},
{"width": 265, "height": 198, "title": {"text": "step", "orient": "bottom", "offset": -4, "font": "Noto Sans CJK JP", "fontSize": 15, "fontWeight": "normal", "color": "#222"},
 "transform": [{"filter": "datum.p === 'b1'"}],
 "layer": [
  {"mark": {"type": "area", "opacity": 0.3}, "encoding": {"x": {"field": "x", "type": "quantitative", "scale": {"domain": [-80000, 1690000], "nice": false, "zero": false}, "axis": {"values": [0, 200000, 400000, 600000, 800000, 1000000, 1200000, 1400000, 1600000], "labelExpr": "format(datum.value / 1000000, '.1f')", "title": "1e6"}}, "y": {"field": "lo", "type": "quantitative", "scale": {"domain": [-400, 9130], "nice": false, "zero": false}, "axis": {"values": [0, 2000, 4000, 6000, 8000], "format": "d", "title": "reward (ppo)"}}, "y2": {"field": "hi"}, "fill": {"field": "s", "type": "nominal", "scale": {"scheme": "category10"}, "legend": null}}},
  {"mark": {"type": "line", "strokeWidth": 1.2}, "encoding": {"x": {"field": "x", "type": "quantitative", "scale": {"domain": [-80000, 1690000], "nice": false, "zero": false}, "axis": {"values": [0, 200000, 400000, 600000, 800000, 1000000, 1200000, 1400000, 1600000], "labelExpr": "format(datum.value / 1000000, '.1f')", "title": "1e6"}}, "y": {"field": "y", "type": "quantitative", "scale": {"domain": [-400, 9130], "nice": false, "zero": false}, "axis": {"values": [0, 2000, 4000, 6000, 8000], "format": "d", "title": "reward (ppo)"}}, "color": {"field": "s", "type": "nominal", "scale": {"scheme": "category10"}, "legend": {"title": null}}}}
 ]},
{"width": 265, "height": 198, "title": {"text": "step", "orient": "bottom", "offset": -4, "font": "Noto Sans CJK JP", "fontSize": 15, "fontWeight": "normal", "color": "#222"},
 "transform": [{"filter": "datum.p === 'b2'"}],
 "layer": [
  {"mark": {"type": "area", "opacity": 0.3}, "encoding": {"x": {"field": "x", "type": "quantitative", "scale": {"domain": [-100000, 2100000], "nice": false, "zero": false}, "axis": {"values": [0, 250000, 500000, 750000, 1000000, 1250000, 1500000, 1750000, 2000000], "labelExpr": "format(datum.value / 1000000, '.2f')", "title": "1e6"}}, "y": {"field": "lo", "type": "quantitative", "scale": {"domain": [-107, 2549], "nice": false, "zero": false}, "axis": {"values": [0, 500, 1000, 1500, 2000, 2500], "format": "d", "title": null}}, "y2": {"field": "hi"}, "fill": {"field": "s", "type": "nominal", "scale": {"scheme": "category10"}, "legend": null}}},
  {"mark": {"type": "line", "strokeWidth": 1.2}, "encoding": {"x": {"field": "x", "type": "quantitative", "scale": {"domain": [-100000, 2100000], "nice": false, "zero": false}, "axis": {"values": [0, 250000, 500000, 750000, 1000000, 1250000, 1500000, 1750000, 2000000], "labelExpr": "format(datum.value / 1000000, '.2f')", "title": "1e6"}}, "y": {"field": "y", "type": "quantitative", "scale": {"domain": [-107, 2549], "nice": false, "zero": false}, "axis": {"values": [0, 500, 1000, 1500, 2000, 2500], "format": "d", "title": null}}, "color": {"field": "s", "type": "nominal", "scale": {"scheme": "category10"}, "legend": {"title": null}}}}
 ]},
{"width": 265, "height": 198, "title": {"text": "step", "orient": "bottom", "offset": -4, "font": "Noto Sans CJK JP", "fontSize": 15, "fontWeight": "normal", "color": "#222"},
 "transform": [{"filter": "datum.p === 'b3'"}],
 "layer": [
  {"mark": {"type": "area", "opacity": 0.3}, "encoding": {"x": {"field": "x", "type": "quantitative", "scale": {"domain": [-100000, 2100000], "nice": false, "zero": false}, "axis": {"values": [0, 250000, 500000, 750000, 1000000, 1250000, 1500000, 1750000, 2000000], "labelExpr": "format(datum.value / 1000000, '.2f')", "title": "1e6"}}, "y": {"field": "lo", "type": "quantitative", "scale": {"domain": [-253, 1661], "nice": false, "zero": false}, "axis": {"values": [-250, 0, 250, 500, 750, 1000, 1250, 1500], "format": "d", "title": null}}, "y2": {"field": "hi"}, "fill": {"field": "s", "type": "nominal", "scale": {"scheme": "category10"}, "legend": null}}},
  {"mark": {"type": "line", "strokeWidth": 1.2}, "encoding": {"x": {"field": "x", "type": "quantitative", "scale": {"domain": [-100000, 2100000], "nice": false, "zero": false}, "axis": {"values": [0, 250000, 500000, 750000, 1000000, 1250000, 1500000, 1750000, 2000000], "labelExpr": "format(datum.value / 1000000, '.2f')", "title": "1e6"}}, "y": {"field": "y", "type": "quantitative", "scale": {"domain": [-253, 1661], "nice": false, "zero": false}, "axis": {"values": [-250, 0, 250, 500, 750, 1000, 1250, 1500], "format": "d", "title": null}}, "color": {"field": "s", "type": "nominal", "scale": {"scheme": "category10"}, "legend": {"title": null}}}}
 ]},
{"width": 265, "height": 198, "title": {"text": "step", "orient": "bottom", "offset": -4, "font": "Noto Sans CJK JP", "fontSize": 15, "fontWeight": "normal", "color": "#222"},
 "transform": [{"filter": "datum.p === 'b4'"}],
 "layer": [
  {"mark": {"type": "area", "opacity": 0.3}, "encoding": {"x": {"field": "x", "type": "quantitative", "scale": {"domain": [-100000, 2100000], "nice": false, "zero": false}, "axis": {"values": [0, 250000, 500000, 750000, 1000000, 1250000, 1500000, 1750000, 2000000], "labelExpr": "format(datum.value / 1000000, '.2f')", "title": "1e6"}}, "y": {"field": "lo", "type": "quantitative", "scale": {"domain": [-107, 2249], "nice": false, "zero": false}, "axis": {"values": [0, 500, 1000, 1500, 2000], "format": "d", "title": null}}, "y2": {"field": "hi"}, "fill": {"field": "s", "type": "nominal", "scale": {"scheme": "category10"}, "legend": null}}},
  {"mark": {"type": "line", "strokeWidth": 1.2}, "encoding": {"x": {"field": "x", "type": "quantitative", "scale": {"domain": [-100000, 2100000], "nice": false, "zero": false}, "axis": {"values": [0, 250000, 500000, 750000, 1000000, 1250000, 1500000, 1750000, 2000000], "labelExpr": "format(datum.value / 1000000, '.2f')", "title": "1e6"}}, "y": {"field": "y", "type": "quantitative", "scale": {"domain": [-107, 2249], "nice": false, "zero": false}, "axis": {"values": [0, 500, 1000, 1500, 2000], "format": "d", "title": null}}, "color": {"field": "s", "type": "nominal", "scale": {"scheme": "category10"}, "legend": {"title": null}}}}
 ]}
]
}
